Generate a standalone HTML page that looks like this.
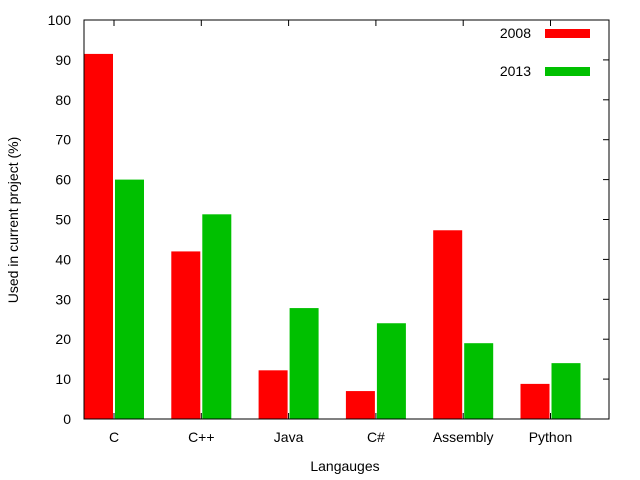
<!DOCTYPE html>
<html><head><meta charset="utf-8"><style>
body{margin:0;background:#fff}
svg{display:block;font-family:"Liberation Sans",sans-serif;font-size:14px}
</style></head><body>
<svg id="chart" width="640" height="480">
<g id="grid"></g>
<g id="bars"></g>
<rect x="84" y="20" width="525" height="399" fill="none" stroke="#000" stroke-width="1"/>
<text x="345" y="471" text-anchor="middle">Langauges</text>
<text transform="translate(18,220) rotate(-90)" text-anchor="middle">Used in current project (%)</text>
<g>
<text x="531" y="38" text-anchor="end">2008</text>
<rect x="545" y="29" width="45" height="9" fill="#ff0000"/>
<text x="531" y="76" text-anchor="end">2013</text>
<rect x="545" y="67" width="45" height="9" fill="#00c000"/>
</g>
</svg>
<script>
const categories=["C","C++","Java","C#","Assembly","Python"];
const series2008=[91.5,42,12.2,7,47.3,8.8];
const series2013=[60,51.3,27.8,24,19,14];
const yTicks=[0,10,20,30,40,50,60,70,80,90,100];
const NS="http://www.w3.org/2000/svg";
const plotTop=20,plotBottom=419,plotLeft=84,plotRight=609;
function y(v){return plotBottom-(v/100)*(plotBottom-plotTop);}
function xc(i){return 114+i*87.3;}
const g=document.getElementById('grid'),b=document.getElementById('bars');
function mk(tag,attrs,parent){const e=document.createElementNS(NS,tag);for(const k in attrs)e.setAttribute(k,attrs[k]);parent.appendChild(e);return e;}
yTicks.forEach(t=>{
  const yy=y(t);
  const l1=mk('line',{x1:plotLeft,x2:plotLeft+6,y1:yy,y2:yy,stroke:'#000'},g);
  
  
  const l2=mk('line',{x1:plotRight-6,x2:plotRight,y1:yy,y2:yy,stroke:'#000'},g);
  
  
  const tx=mk('text',{x:plotLeft-13,y:yy+5,'text-anchor':'end'},g);
  tx.textContent=t;
  
  
});
categories.forEach((c,i)=>{
  const cx=xc(i);
  const l1=mk('line',{x1:cx,x2:cx,y1:plotBottom,y2:plotBottom-6,stroke:'#000'},g);
  
  
  const l2=mk('line',{x1:cx,x2:cx,y1:plotTop,y2:plotTop+6,stroke:'#000'},g);
  
  
  const tx=mk('text',{x:cx,y:442,'text-anchor':'middle'},g);
  tx.textContent=c;
  
  
  const r1=mk('rect',{x:cx-30,y:y(series2008[i]),width:29,height:plotBottom-y(series2008[i]),fill:'#ff0000'},b);
  
  
  const r2=mk('rect',{x:cx+1,y:y(series2013[i]),width:29,height:plotBottom-y(series2013[i]),fill:'#00c000'},b);
  
  
});
</script>
</body></html>
